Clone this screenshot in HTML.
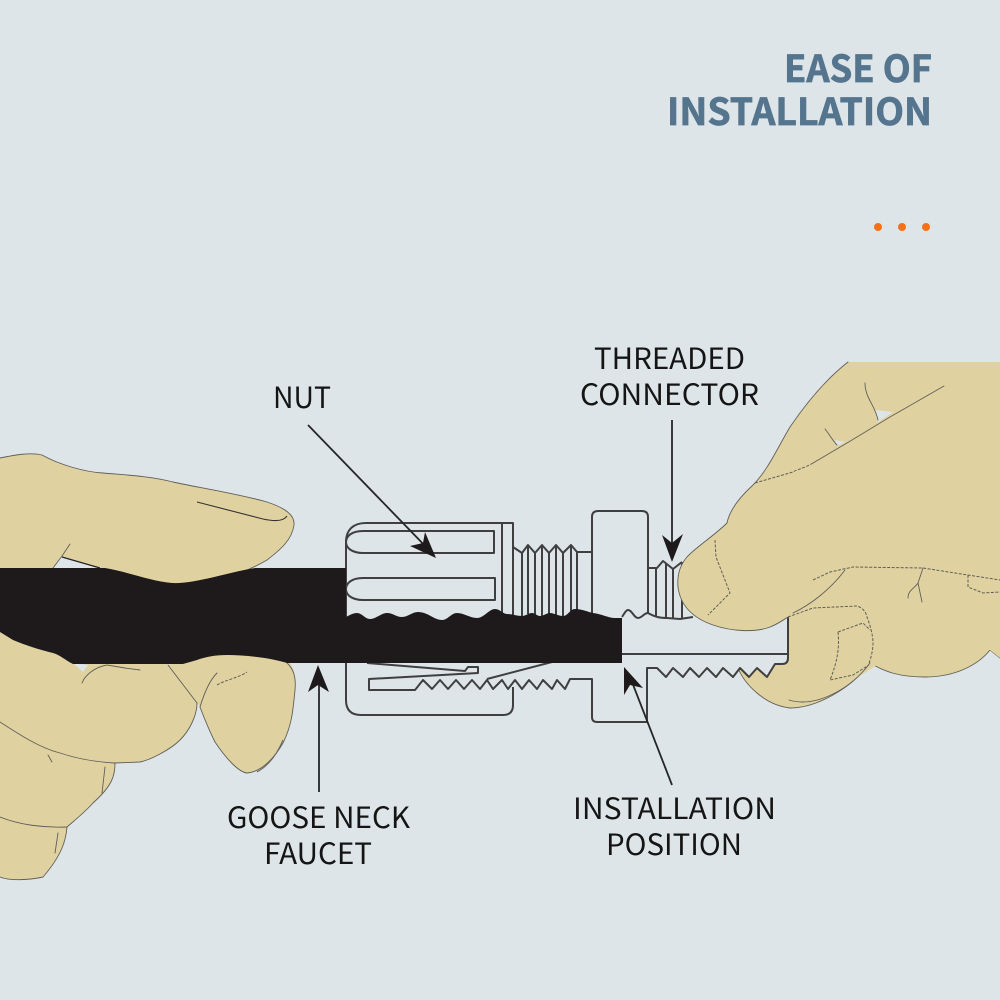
<!DOCTYPE html>
<html><head><meta charset="utf-8"><style>
html,body{margin:0;padding:0;background:#dde5e9}
svg{display:block}
.l{font-family:"Noto Sans CJK JP","Liberation Sans",sans-serif;font-size:29px;fill:#151515;font-weight:400}
.t{font-family:"Noto Sans CJK JP","Liberation Sans",sans-serif;font-size:37px;fill:#55758e;stroke:#55758e;stroke-width:.7;font-weight:700}
.o{fill:none;stroke:#5f5f58;stroke-width:.9;stroke-linejoin:round;stroke-linecap:round}
.p{fill:none;stroke:#5f5f58;stroke-width:1;stroke-dasharray:3 1.5;stroke-linejoin:round}
.d{fill:none;stroke:#3f3f3f;stroke-width:2;stroke-linejoin:round}
.a{fill:none;stroke:#262626;stroke-width:1.8}
.k{fill:#1e1a1b}
.h{fill:#e0d2a0}
</style></head><body>
<svg width="1000" height="1000" viewBox="0 0 1000 1000" xmlns="http://www.w3.org/2000/svg">
<rect width="1000" height="1000" fill="#dde5e9"/>
<text class="t" x="784" y="82" textLength="148" lengthAdjust="spacingAndGlyphs">EASE OF</text>
<text class="t" x="667" y="125" textLength="265" lengthAdjust="spacingAndGlyphs">INSTALLATION</text>
<g fill="#f0721a"><circle cx="878" cy="227" r="4"/><circle cx="902" cy="227" r="4"/><circle cx="926" cy="227" r="4"/></g>

<!-- left hand fills -->
<path class="h" d="M0 458C15 455 30 452 42 455C60 465 85 472 103 473C125 475 150 476 173 482C195 487 235 493 267 502C285 508 295 515 294 525C292 540 280 550 267 560C250 570 235 575 225 580L0 600Z"/>
<path class="h" d="M0 620L170 640L167 665L290 640V663C295 670 296 680 295 690C293 710 292 725 283 743C275 757 262 772 247 773C238 772 225 757 215 742C208 728 203 715 200 707L197 703C197 715 190 730 180 740C170 750 150 760 140 762L115 763C115 775 113 785 93 803C85 812 75 820 67 827C66 840 62 855 43 877C30 880 10 881 0 877Z"/>
<path d="M53 568L61 556L100 568Z" fill="#dde5e9"/>
<path d="M73 663L88 665L83 672Z" fill="#dde5e9"/>
<g class="o">
<path d="M0 458C15 455 30 452 42 455C60 465 85 472 103 473C125 475 150 476 173 482C195 487 235 493 267 502C285 508 295 515 294 525C292 540 280 550 267 560C250 570 235 575 225 578"/>
<path d="M197 703C197 715 190 730 180 740C170 750 150 760 140 762L115 763C115 775 113 785 93 803C85 812 75 820 67 827C66 840 62 855 43 877C30 880 10 881 0 877"/>
<path d="M287 663C295 670 296 680 295 690C293 710 292 725 283 743C275 757 262 772 247 773C238 772 225 757 215 742C208 728 203 715 200 707"/>
<path d="M168 665L197 703"/>
<path d="M0 722C20 735 40 748 60 753C75 758 95 762 115 763"/>
<path d="M48 755L52 762M105 767L102 793M0 817C20 825 45 828 67 827M58 833L55 853"/>
<path d="M82 683C85 675 95 667 107 665L125 668L140 670"/>
<path d="M200 707C203 697 208 682 217 673"/>
<path d="M53 568L62 556M70 544L62 556"/>
</g>
<path class="p" d="M217 685C225 680 238 678 247 672"/>
<path d="M197 502L263 519C272 521 283 522 287 516" fill="none" stroke="#333" stroke-width="1.1"/>
<path d="M62 557L100 568" fill="none" stroke="#222" stroke-width="1.2"/>
<path d="M283 740C278 752 270 765 257 772" fill="none" stroke="#666" stroke-width="1"/>

<!-- connector upper -->
<g class="d">
<path d="M346 620V542C346 530 353 523 366 523H513V615"/>
<path d="M502 523V615"/>
<path d="M494 531H363C352 531 346 536 346 542C346 548 352 553 363 553H494Z"/>
<path d="M495 578H363C352 578 346 583 346 589C346 595 352 600 363 600H495Z"/>
<path d="M513 547L522 553L528 545L535 553L542 545L549 553L556 545L563 553L571 545L577 552H592"/>
<path d="M522 553V616M528 545V614M535 553V616M542 545V616M549 553V614M556 545V616M563 553V616M571 545V614M577 552V612"/>
<path d="M592 613V517Q592 511 598 511H642Q648 511 648 517V613"/>
<path d="M648 568H657L663 561L673 569L682 562"/>
<path d="M656 568V616M666 563V619M673 569V619M682 562V619"/>
</g>
<!-- right hand back layer -->
<path class="h" d="M848 362H1000V658L990 650C978 665 955 677 925 677C900 677 885 672 870 663C850 690 815 708 790 708C765 705 745 685 738 668L780 620L760 480Z"/>
<path class="o" d="M738 668C745 685 765 705 790 708C815 708 850 690 870 663C885 672 900 677 925 677C955 677 978 665 990 650L1000 658"/>
<!-- tube -->
<path d="M622 617C624 614 626 610 628 610C632 610 634 618 638 618C642 618 644 613 648 613C655 617 660 618 667 618L680 619L693 617H788V658Q788 664 782 664H775L767 677L757 668L749 677L740 668L733 677L723 668L716 677L707 668L699 677L690 668L683 677L673 668L666 677L657 668H647V700H622Z" fill="#dde5e9"/>
<g class="d">
<path d="M622 617C624 614 626 610 628 610C632 610 634 618 638 618C642 618 644 613 648 613C655 617 660 618 667 618L680 619L693 617"/>
<path d="M622 654H788"/>
<path d="M788 617V658Q788 664 782 664H775L767 677L757 668L749 677L740 668L733 677L723 668L716 677L707 668L699 677L690 668L683 677L673 668L666 677L657 668H647V722H597Q592 722 592 717V679H570L565 689L557 680L552 689L543 680L537 689L529 680L522 689L515 680L508 689L502 680L493 689L487 680L480 689L472 680L464 689L456 680L448 689L440 680L432 689L423 680L415 690H369V679L478 673V667H468L465 671L367 663"/>
<path d="M487 679L552 662"/>
<path d="M346 663V700Q346 715 361 715H503Q513 715 513 705V687"/>
</g>
<!-- black tube -->
<path class="k" d="M0 568H105C125 571 150 581 172 583C195 584 225 573 255 568H346V617C350 615 353 613 357 613C362 613 365 619 370 619C376 619 381 613 387 613C393 613 396 617 402 617C408 617 412 612 418 612C428 612 434 620 442 620C448 620 451 613 457 613C464 613 470 618 477 618C484 618 489 609 495 609C500 609 503 614 507 614C512 614 517 616 522 616C526 616 528 613 532 613C535 613 537 616 540 616C544 616 546 613 550 613C554 613 558 616 563 616C568 616 570 609 575 609C582 609 588 612 593 613C602 614 608 618 615 618H622V663H287C275 659 250 655 227 655C215 655 205 657 197 660L183 664H73C65 660 60 655 53 653C40 650 25 645 13 640L0 632Z"/>
<!-- right hand front -->
<path class="h" d="M848 362H1000V658L990 650L880 660L870 663C873 640 870 615 857 606L813 608L788 617C783 620 778 624 770 627C755 633 730 631 713 625C690 617 680 603 678 587C677 575 680 565 687 557C695 548 715 535 727 523C730 508 742 495 753 485C768 470 778 447 790 427C805 405 825 380 848 362Z"/>
<path class="h" d="M789 617L880 600V663L838 690L789 668Z"/>
<path class="d" d="M788 619V658"/>
<path d="M875 410L893 412L878 422Z" fill="#dde5e9"/>
<path d="M835 440L845 442L837 446Z" fill="#dde5e9"/>
<g class="o">
<path d="M848 362C825 380 805 405 790 427C778 447 768 470 753 485C742 495 730 508 727 523C715 535 695 548 687 557C680 565 677 575 678 587C680 603 690 617 713 625C730 631 755 633 770 627C778 624 783 620 788 617"/>
<path d="M789 700C815 708 850 690 870 663"/>
<path d="M865 383C865 398 875 405 878 420M825 429C830 435 832 440 837 445"/>
<path d="M944 386L890 417L847 443L813 463"/>
<path d="M845 570C830 590 810 605 793 613"/>
<path d="M923 568L918 583C915 588 908 590 908 598M918 583L922 602"/>
</g>
<g class="p">
<path d="M813 463C805 468 795 470 793 472L755 483"/>
<path d="M715 540L716 557L730 593L708 615"/>
<path d="M813 580L830 572L853 567L923 568L1000 580"/>
<path d="M968 575V587L983 593L1000 592"/>
<path d="M788 617L813 608L857 606C863 608 866 612 867 617C870 625 873 635 873 643C873 650 871 658 869 663"/>
<path d="M838 632L863 623L870 630M838 632C840 650 836 665 830 680L853 675L869 665"/>
</g>

<!-- arrows -->
<path class="a" d="M308 425L430 551"/>
<path class="k" d="M436 558L425 532L423 543L410 546Z"/>
<path class="a" d="M672 420V548"/>
<path class="k" d="M672 562L662 535L672 543L683 534Z"/>
<path class="a" d="M319 792V680"/>
<path class="k" d="M318 665L308 692L318 685L329 692Z"/>
<path class="a" d="M672 785L632 682"/>
<path class="k" d="M624 667L624 695L630 685L643 688Z"/>

<text class="l" x="273" y="408" textLength="58" lengthAdjust="spacingAndGlyphs">NUT</text>
<text class="l" x="594" y="369" textLength="151" lengthAdjust="spacingAndGlyphs">THREADED</text>
<text class="l" x="580" y="405" textLength="179" lengthAdjust="spacingAndGlyphs">CONNECTOR</text>
<text class="l" x="227" y="828" textLength="183" lengthAdjust="spacingAndGlyphs">GOOSE NECK</text>
<text class="l" x="264" y="864" textLength="108" lengthAdjust="spacingAndGlyphs">FAUCET</text>
<text class="l" x="573" y="819" textLength="203" lengthAdjust="spacingAndGlyphs">INSTALLATION</text>
<text class="l" x="606" y="855" textLength="136" lengthAdjust="spacingAndGlyphs">POSITION</text>
</svg>
</body></html>
